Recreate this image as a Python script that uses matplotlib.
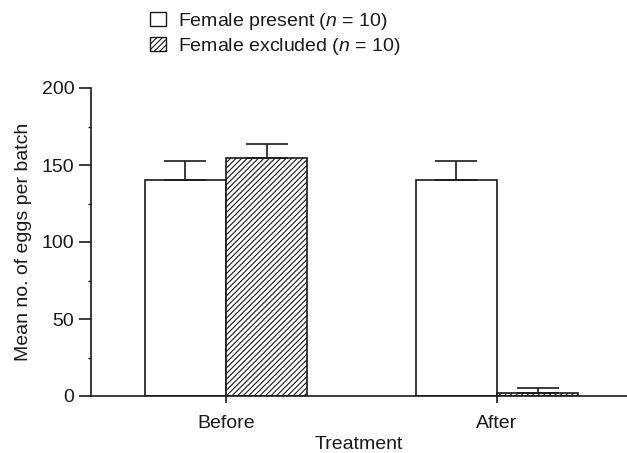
import matplotlib
matplotlib.use("Agg")
import matplotlib.pyplot as plt
from matplotlib.patches import Patch
import numpy as np

plt.rcParams['font.family'] = ['Liberation Sans', 'DejaVu Sans']
plt.rcParams['mathtext.fontset'] = 'custom'
plt.rcParams['mathtext.it'] = 'Liberation Sans:italic'
plt.rcParams['mathtext.rm'] = 'Liberation Sans'
plt.rcParams['hatch.linewidth'] = 0.8

categories = ["Before", "After"]
present_mean = [140, 140]
present_err = [12.5, 12.5]
excluded_mean = [154.5, 2]
excluded_err = [9, 3.5]
labels = ["Female present ($n$ = 10)", "Female excluded ($n$ = 10)"]

FS = 14
ink = '#1a1a1a'
fig = plt.figure(figsize=(6.27, 4.53), dpi=100)
ax = fig.add_axes([91/627, 1-396/453, 1-91/627, (396-88)/453])

x = np.arange(len(categories))
w = 0.30
lw = 1.2
ax.bar(x - w/2, present_mean, w, color='white', edgecolor=ink, linewidth=lw, zorder=2)
ax.bar(x + w/2, excluded_mean, w, color='white', edgecolor=ink, linewidth=lw,
       hatch='//////', zorder=2)
ax.errorbar(x - w/2, present_mean, yerr=[[0]*2, present_err], fmt='none', ecolor=ink,
            elinewidth=lw, capsize=15, capthick=lw, zorder=3)
ax.errorbar(x + w/2, excluded_mean, yerr=[[0]*2, excluded_err], fmt='none', ecolor=ink,
            elinewidth=lw, capsize=15, capthick=lw, zorder=3)

ax.set_xlim(-0.498, 1.48)
ax.set_ylim(0, 200)
ax.set_yticks([0, 50, 100, 150, 200])
ax.set_yticks([25, 75, 125, 175], minor=True)
ax.set_xticks(x)
ax.set_xticklabels(categories)
for s in ['top', 'right']:
    ax.spines[s].set_visible(False)
for s in ['left', 'bottom']:
    ax.spines[s].set_linewidth(1.2)
    ax.spines[s].set_color(ink)
ax.tick_params(axis='y', which='major', length=9, width=1.2, pad=3, labelsize=FS, colors=ink)
ax.tick_params(axis='x', which='major', length=5, width=1.2, pad=8.5, labelsize=FS, colors=ink)
ax.tick_params(axis='y', which='minor', length=2.5, width=1.0, colors=ink)
ax.set_ylabel("Mean no. of eggs per batch", fontsize=FS, color=ink, labelpad=7)
ax.set_xlabel("Treatment", fontsize=FS, color=ink, labelpad=3)

handles = [Patch(facecolor='white', edgecolor=ink, linewidth=1.0),
           Patch(facecolor='white', edgecolor=ink, linewidth=1.0, hatch='//////')]
fig.legend(handles, labels, loc='upper left', bbox_to_anchor=(150/627, 1 - 11/453), frameon=False,
           fontsize=FS, handlelength=0.8, handleheight=0.77, handletextpad=0.62,
           labelspacing=0.19, borderaxespad=0, borderpad=0, labelcolor=ink)

fig.savefig("out.png", dpi=100)
